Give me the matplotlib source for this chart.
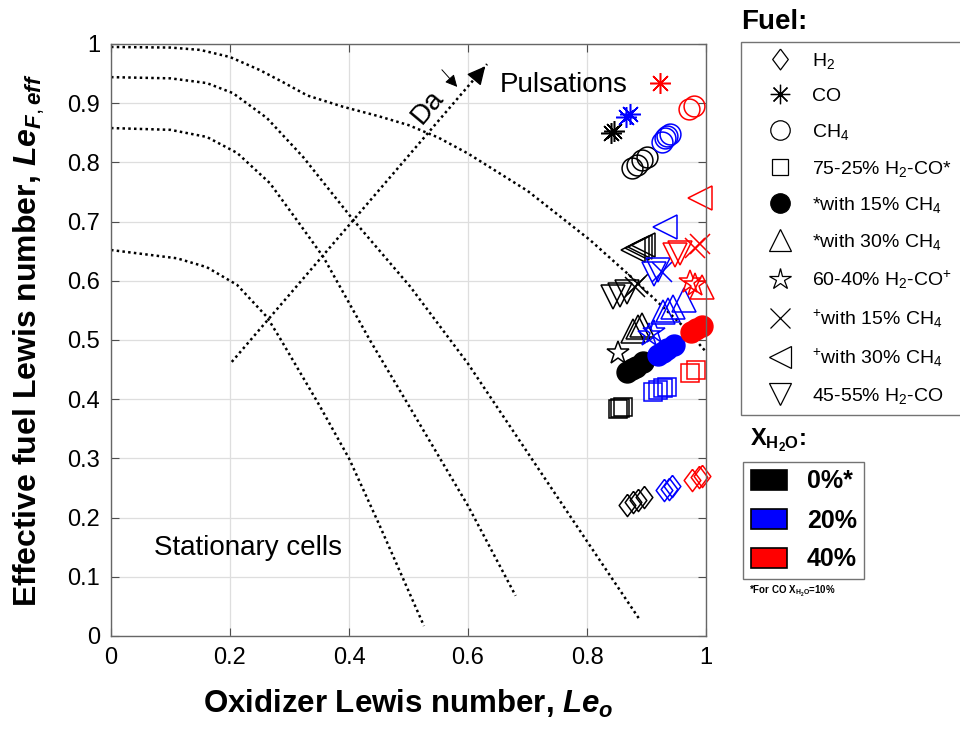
import matplotlib.pyplot as plt
from matplotlib.lines import Line2D
from matplotlib.patches import Patch

plt.rcParams.update({
    "font.family": "Liberation Sans",
    "mathtext.fontset": "custom",
    "mathtext.rm": "Liberation Sans",
    "mathtext.it": "Liberation Sans:italic:bold",
    "mathtext.bf": "Liberation Sans:bold",
})

# stability boundaries (dotted)
curve1_x = [0.0, 0.10, 0.15, 0.20, 0.25, 0.29, 0.33, 0.39, 0.45, 0.50, 0.55, 0.60, 0.70, 0.805, 0.876, 0.965, 1.0]
curve1_y = [0.995, 0.994, 0.990, 0.978, 0.956, 0.935, 0.913, 0.894, 0.878, 0.863, 0.842, 0.815, 0.752, 0.669, 0.605, 0.520, 0.480]
curve2_x = [0.0, 0.10, 0.161, 0.205, 0.262, 0.323, 0.407, 0.503, 0.60, 0.70, 0.80, 0.889]
curve2_y = [0.944, 0.942, 0.934, 0.917, 0.875, 0.809, 0.703, 0.590, 0.460, 0.310, 0.160, 0.027]
curve3_x = [0.0, 0.10, 0.161, 0.212, 0.267, 0.312, 0.357, 0.435, 0.50, 0.60, 0.68]
curve3_y = [0.858, 0.855, 0.843, 0.816, 0.765, 0.703, 0.640, 0.500, 0.390, 0.220, 0.068]
curve4_x = [0.0, 0.111, 0.161, 0.212, 0.262, 0.284, 0.35, 0.40, 0.45, 0.526]
curve4_y = [0.652, 0.638, 0.623, 0.593, 0.539, 0.503, 0.390, 0.300, 0.190, 0.017]

da_x = [0.203, 0.632]
da_y = [0.463, 0.966]

# measured points, lists ordered as X_H2O = 0%, 20%, 40%
h2_x = [[0.868, 0.877, 0.886, 0.895], [0.930, 0.937, 0.943], [0.976, 0.988, 0.993]]
h2_y = [[0.222, 0.226, 0.229, 0.234], [0.246, 0.249, 0.253], [0.264, 0.268, 0.271]]
co_x = [[0.840, 0.846], [0.866, 0.872], [0.923]]
co_y = [[0.849, 0.853], [0.876, 0.882], [0.934]]
ch4_x = [[0.876, 0.884, 0.892, 0.901], [0.926, 0.931, 0.934, 0.939], [0.971, 0.980]]
ch4_y = [[0.790, 0.796, 0.804, 0.809], [0.835, 0.841, 0.845, 0.848], [0.890, 0.895]]
mix75_x = [[0.852, 0.856, 0.860], [0.911, 0.919, 0.928, 0.934], [0.973, 0.983]]
mix75_y = [[0.384, 0.385, 0.386], [0.412, 0.416, 0.419, 0.420], [0.444, 0.449]]
mix75_ch4_15_x = [[0.867, 0.875, 0.883, 0.894], [0.919, 0.927, 0.935, 0.946], [0.975, 0.983, 0.993]]
mix75_ch4_15_y = [[0.446, 0.451, 0.455, 0.462], [0.475, 0.479, 0.484, 0.491], [0.513, 0.518, 0.524]]
mix75_ch4_30_x = [[0.878, 0.886, 0.893], [0.928, 0.936, 0.944, 0.963], [0.993]]
mix75_ch4_30_y = [[0.516, 0.522, 0.525], [0.548, 0.551, 0.555, 0.567], [0.590]]
mix60_x = [[0.852], [0.905, 0.912], [0.973, 0.981]]
mix60_y = [[0.478], [0.508, 0.514], [0.598, 0.593]]
mix60_ch4_15_x = [[0.880, 0.886], [0.926], [0.982, 0.990]]
mix60_ch4_15_y = [[0.590, 0.595], [0.615], [0.655, 0.663]]
mix60_ch4_30_x = [[0.877, 0.884, 0.889, 0.894], [0.931], [0.990]]
mix60_ch4_30_y = [[0.652, 0.655, 0.657, 0.660], [0.691], [0.740]]
mix45_x = [[0.844, 0.855, 0.867], [0.912, 0.920], [0.948, 0.956]]
mix45_y = [[0.573, 0.576, 0.581], [0.612, 0.618], [0.644, 0.647]]

fuel_labels = [r"H$_{\mathregular{2}}$", "CO", r"CH$_{\mathregular{4}}$",
               r"75-25% H$_{\mathregular{2}}$-CO*", r"*with 15% CH$_{\mathregular{4}}$",
               r"*with 30% CH$_{\mathregular{4}}$", r"60-40% H$_{\mathregular{2}}$-CO$^{\mathregular{+}}$",
               r"$^{\mathregular{+}}$with 15% CH$_{\mathregular{4}}$",
               r"$^{\mathregular{+}}$with 30% CH$_{\mathregular{4}}$", r"45-55% H$_{\mathregular{2}}$-CO"]
water_labels = ["0%*", "20%", "40%"]

colors = ["k", "#0000ff", "#ff0000"]
diamond = [(0, 1), (0.75, 0), (0, -1), (-0.75, 0), (0, 1)]
asterisk = (8, 2, 0)

series = [
    (h2_x, h2_y, diamond, 16, False),
    (co_x, co_y, asterisk, 15, False),
    (ch4_x, ch4_y, "o", 15, False),
    (mix75_x, mix75_y, "s", 13, False),
    (mix75_ch4_15_x, mix75_ch4_15_y, "o", 15, True),
    (mix75_ch4_30_x, mix75_ch4_30_y, "^", 17, False),
    (mix60_x, mix60_y, "*", 17, False),
    (mix60_ch4_15_x, mix60_ch4_15_y, "x", 15, False),
    (mix60_ch4_30_x, mix60_ch4_30_y, "<", 17, False),
    (mix45_x, mix45_y, "v", 17, False),
]

fig = plt.figure(figsize=(9.6, 7.29), dpi=100)
ax = fig.add_axes([111 / 960, 1 - 636 / 729, 595 / 960, 592 / 729])

dots = dict(color="k", linestyle=(0, (1, 1.3)), linewidth=1.8)
for cx, cy in [(curve1_x, curve1_y), (curve2_x, curve2_y), (curve3_x, curve3_y), (curve4_x, curve4_y)]:
    ax.plot(cx, cy, **dots)

ax.plot(da_x, da_y, **dots)
ax.annotate("", xy=(da_x[1], da_y[1]), xytext=(da_x[1] - 0.02, da_y[1] - 0.024),
            arrowprops=dict(arrowstyle="-|>", color="k", lw=1, mutation_scale=28))
ax.annotate("", xy=(0.585, 0.924), xytext=(0.553, 0.960),
            arrowprops=dict(arrowstyle="-|>", color="k", lw=0.7, mutation_scale=18))
ax.text(0.533, 0.893, "Da", fontsize=20, rotation=50, ha="center", va="center")
ax.text(0.653, 0.930, "Pulsations", fontsize=20, ha="left", va="center")
ax.text(0.073, 0.149, "Stationary cells", fontsize=20, ha="left", va="center")

for xs, ys, mk, ms, filled in series:
    for i, c in enumerate(colors):
        ax.plot(xs[i], ys[i], linestyle="none", marker=mk, markersize=ms,
                markeredgecolor=c, markerfacecolor=c if filled else "none",
                markeredgewidth=1.1, clip_on=False)

ax.set_xlim(0, 1)
ax.set_ylim(0, 1)
ax.set_xticks([0, 0.2, 0.4, 0.6, 0.8, 1])
ax.set_yticks([i / 10 for i in range(11)])
ax.xaxis.set_major_formatter(plt.FuncFormatter(lambda v, p: "%g" % v))
ax.yaxis.set_major_formatter(plt.FuncFormatter(lambda v, p: "%g" % v))
ax.tick_params(direction="in", length=6, width=0.8, color="0.3", labelsize=17,
               top=True, right=True, pad=8)
ax.grid(True, color="0.87", linewidth=0.9)
ax.set_axisbelow(True)
for s in ax.spines.values():
    s.set_color("0.4")
    s.set_linewidth(1.0)

ax.set_xlabel(r"Oxidizer Lewis number, $Le_o$", fontsize=22.5, fontweight="bold")
ax.set_ylabel(r"Effective fuel Lewis number, $Le_{F,eff}$", fontsize=23, fontweight="bold")
ax.xaxis.set_label_coords(0.5, -0.088)
ax.yaxis.set_label_coords(-0.108, 0.5)

# fuel legend
handles = []
for xs, ys, mk, ms, filled in series:
    handles.append(Line2D([], [], linestyle="none", marker=mk, markersize=ms - 1,
                          markeredgecolor="k", markerfacecolor="k" if filled else "none",
                          markeredgewidth=0.9))
fig.text(741 / 960, 1 - 22 / 729, "Fuel:", fontsize=20, fontweight="bold", ha="left", va="center")
leg1 = fig.legend(handles, fuel_labels, loc="upper left", bbox_to_anchor=(741 / 960, 1 - 42 / 729),
                  fontsize=14, frameon=True, fancybox=False, framealpha=1, edgecolor="0.45",
                  labelspacing=0.86, handlelength=3.1, handletextpad=0.12, borderpad=0.45,
                  borderaxespad=0)
leg1.get_frame().set_linewidth(1.0)

# water legend
patches = [Patch(facecolor=c, edgecolor="k", linewidth=1.2) for c in colors]
fig.text(750 / 960, 1 - 440 / 729, r"X$_{\mathregular{H_2O}}$:", fontsize=17, fontweight="bold",
         ha="left", va="center")
leg2 = fig.legend(patches, water_labels, loc="upper left", bbox_to_anchor=(743 / 960, 1 - 462 / 729),
                  prop=dict(size=18, weight="bold"), frameon=True, fancybox=False, framealpha=1,
                  edgecolor="0.45", handlelength=1.45, handleheight=0.9, handletextpad=0.8,
                  labelspacing=0.6, borderpad=0.3, borderaxespad=0)
leg2.get_frame().set_linewidth(1.0)
fig.text(749 / 960, 1 - 591 / 729, r"*For CO X$_{\mathregular{H_2O}}$=10%", fontsize=7,
         fontweight="bold", ha="left", va="center")

fig.savefig("out.png", dpi=100)
